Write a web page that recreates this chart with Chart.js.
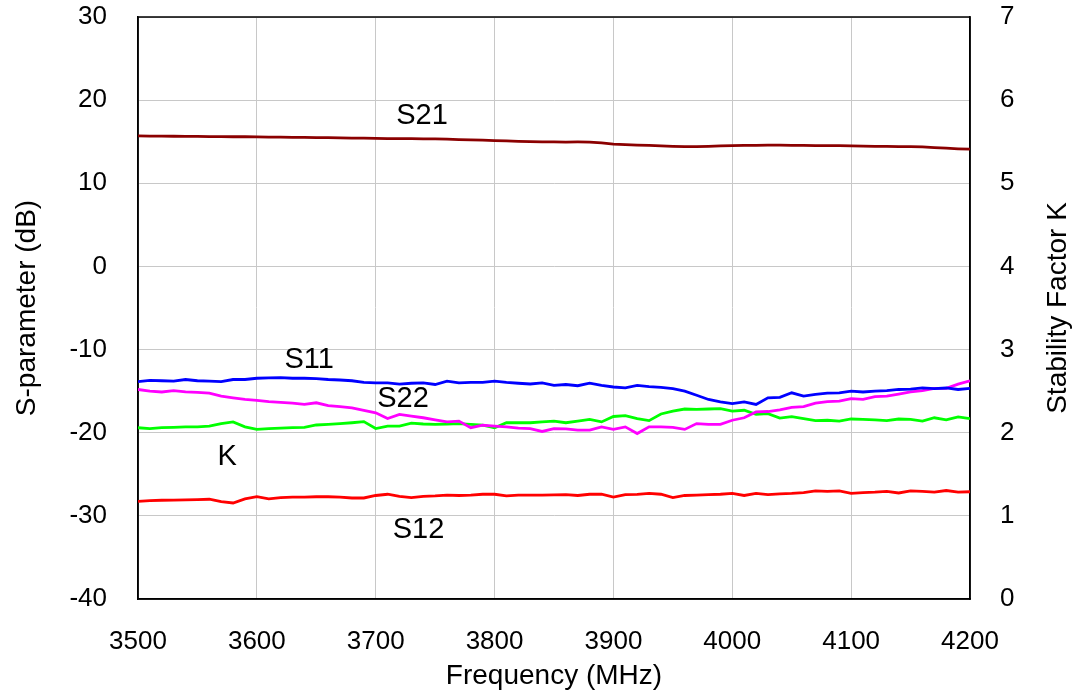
<!DOCTYPE html>
<html>
<head>
<meta charset="utf-8">
<script src="https://cdn.jsdelivr.net/npm/chart.js@4.4.0/dist/chart.umd.min.js"></script>
<style>
  html, body { margin: 0; padding: 0; background: #fff; }
  #wrap { width: 1089px; height: 694px; }
</style>
</head>
<body>
<div id="wrap"><canvas id="myChart" width="1089" height="694"></canvas></div>
<script>
// frequency points (MHz)
var freq = [3500, 3510, 3520, 3530, 3540, 3550, 3560, 3570, 3580, 3590,
  3600, 3610, 3620, 3630, 3640, 3650, 3660, 3670, 3680, 3690,
  3700, 3710, 3720, 3730, 3740, 3750, 3760, 3770, 3780, 3790,
  3800, 3810, 3820, 3830, 3840, 3850, 3860, 3870, 3880, 3890,
  3900, 3910, 3920, 3930, 3940, 3950, 3960, 3970, 3980, 3990,
  4000, 4010, 4020, 4030, 4040, 4050, 4060, 4070, 4080, 4090,
  4100, 4110, 4120, 4130, 4140, 4150, 4160, 4170, 4180, 4190, 4200];

// S-parameters in dB
var s21 = [15.7, 15.68, 15.67, 15.66, 15.65, 15.64, 15.62, 15.61, 15.6, 15.6,
  15.58, 15.56, 15.55, 15.53, 15.52, 15.5, 15.48, 15.46, 15.44, 15.42,
  15.4, 15.38, 15.37, 15.36, 15.35, 15.33, 15.3, 15.26, 15.22, 15.18,
  15.14, 15.1, 15.05, 15.0, 14.98, 14.97, 14.96, 14.97, 14.95, 14.85,
  14.72, 14.65, 14.6, 14.55, 14.5, 14.45, 14.42, 14.42, 14.45, 14.5,
  14.52, 14.55, 14.57, 14.6, 14.58, 14.57, 14.55, 14.53, 14.52, 14.52,
  14.5, 14.48, 14.45, 14.43, 14.42, 14.4, 14.38, 14.3, 14.22, 14.15, 14.1];

var s12 = [-28.25, -28.18, -28.12, -28.1, -28.08, -28.05, -28.0, -28.3, -28.45, -27.95,
  -27.7, -27.95, -27.8, -27.75, -27.75, -27.7, -27.7, -27.75, -27.85, -27.85,
  -27.55, -27.4, -27.65, -27.8, -27.65, -27.6, -27.5, -27.55, -27.5, -27.4,
  -27.4, -27.6, -27.5, -27.5, -27.5, -27.48, -27.45, -27.55, -27.4, -27.4,
  -27.75, -27.45, -27.42, -27.3, -27.4, -27.8, -27.55, -27.5, -27.45, -27.4,
  -27.3, -27.55, -27.3, -27.45, -27.35, -27.3, -27.2, -27.0, -27.05, -27.0,
  -27.3, -27.2, -27.15, -27.05, -27.25, -27.0, -27.05, -27.15, -26.95, -27.15, -27.1];

var s11 = [-13.85, -13.7, -13.75, -13.8, -13.6, -13.75, -13.8, -13.85, -13.6, -13.6,
  -13.45, -13.4, -13.38, -13.45, -13.45, -13.5, -13.6, -13.66, -13.75, -13.95,
  -14.0, -14.0, -14.15, -14.05, -14.0, -14.2, -13.8, -14.0, -13.95, -13.95,
  -13.8, -13.95, -14.05, -14.14, -14.0, -14.3, -14.2, -14.35, -14.05, -14.3,
  -14.5, -14.6, -14.3, -14.45, -14.55, -14.7, -15.0, -15.5, -16.0, -16.3,
  -16.5, -16.3, -16.6, -15.8, -15.74, -15.2, -15.6, -15.4, -15.25, -15.2,
  -15.0, -15.1, -15.0, -14.95, -14.8, -14.75, -14.6, -14.7, -14.62, -14.8, -14.67];

var s22 = [-14.8, -15.0, -15.1, -14.95, -15.1, -15.15, -15.25, -15.6, -15.8, -16.0,
  -16.1, -16.25, -16.35, -16.45, -16.6, -16.4, -16.75, -16.85, -17.0, -17.3,
  -17.6, -18.3, -17.8, -18.0, -18.2, -18.45, -18.7, -18.6, -19.4, -19.1,
  -19.2, -19.3, -19.45, -19.5, -19.85, -19.5, -19.55, -19.7, -19.7, -19.3,
  -19.6, -19.3, -20.1, -19.3, -19.3, -19.35, -19.6, -18.9, -19.0, -19.0,
  -18.5, -18.2, -17.5, -17.45, -17.25, -16.95, -16.85, -16.45, -16.25, -16.2,
  -15.9, -16.0, -15.65, -15.6, -15.35, -15.1, -14.95, -14.67, -14.67, -14.15, -13.75];

// stability factor K (right axis)
var kFactor = [2.06, 2.05, 2.06, 2.065, 2.07, 2.07, 2.08, 2.11, 2.13, 2.07,
  2.04, 2.05, 2.055, 2.06, 2.065, 2.093, 2.10, 2.11, 2.12, 2.133,
  2.05, 2.08, 2.08, 2.115, 2.105, 2.10, 2.105, 2.11, 2.10, 2.09,
  2.06, 2.12, 2.12, 2.12, 2.13, 2.14, 2.12, 2.14, 2.16, 2.13,
  2.195, 2.205, 2.17, 2.145, 2.225, 2.26, 2.285, 2.28, 2.285, 2.29,
  2.26, 2.27, 2.22, 2.23, 2.175, 2.193, 2.17, 2.145, 2.15, 2.14,
  2.165, 2.16, 2.155, 2.145, 2.165, 2.16, 2.14, 2.18, 2.155, 2.19, 2.17];

// curve labels placed in data units [text, freq, dB]
var curveLabels = [
  ['S21', 3739, 18.1],
  ['S11', 3644, -11.3],
  ['S22', 3723, -15.9],
  ['K', 3575, -22.9],
  ['S12', 3736, -31.7]
];

function pts(arr) {
  return freq.map(function (f, i) { return { x: f, y: arr[i] }; });
}

var FONT = 'Liberation Sans, Arial, sans-serif';

// black frame round the plot + curve names + right title
var extras = {
  id: 'extras',
  beforeDatasetsDraw: function (chart) {
    var a = chart.chartArea, c = chart.ctx;
    c.save();
    c.strokeStyle = '#000';
    c.lineWidth = 1.5;
    c.strokeRect(a.left, a.top, a.right - a.left, a.bottom - a.top);
    c.restore();
  },
  afterDraw: function (chart) {
    var c = chart.ctx, sx = chart.scales.x, sy = chart.scales.y, a = chart.chartArea;
    c.save();
    c.fillStyle = '#000';
    c.font = '29px ' + FONT;
    c.textAlign = 'center';
    c.textBaseline = 'middle';
    curveLabels.forEach(function (l) {
      c.fillText(l[0], sx.getPixelForValue(l[1]), sy.getPixelForValue(l[2]));
    });
    c.font = '28px ' + FONT;
    c.translate(1058, (a.top + a.bottom) / 2);
    c.rotate(-Math.PI / 2);
    c.fillText('Stability Factor K', 0, 0);
    c.restore();
  }
};

function plain(v) { return String(v); }

var ctx = document.getElementById('myChart').getContext('2d');
var myChart = new Chart(ctx, {
  type: 'line',
  data: {
    datasets: [
      { label: 'S21', data: pts(s21), borderColor: '#8b0000', yAxisID: 'y' },
      { label: 'S11', data: pts(s11), borderColor: '#0000ff', yAxisID: 'y' },
      { label: 'S22', data: pts(s22), borderColor: '#ff00ff', yAxisID: 'y' },
      { label: 'K', data: pts(kFactor), borderColor: '#00ff00', yAxisID: 'y1' },
      { label: 'S12', data: pts(s12), borderColor: '#ff0000', yAxisID: 'y' }
    ]
  },
  options: {
    responsive: false,
    animation: false,
    devicePixelRatio: 1,
    layout: { padding: { top: 17, left: 0, right: 0, bottom: 0 } },
    elements: {
      point: { radius: 0 },
      line: { borderWidth: 2.8, tension: 0 }
    },
    plugins: {
      legend: { display: false },
      tooltip: { enabled: false }
    },
    scales: {
      x: {
        type: 'linear',
        min: 3500,
        max: 4200,
        afterFit: function (s) { s.height = 95; s.paddingLeft = 0; s.paddingRight = 0; },
        ticks: { stepSize: 100, padding: 27, color: '#000', callback: plain, font: { family: FONT, size: 26 } },
        grid: { color: '#c8c8c8', drawTicks: false },
        border: { color: '#000', width: 1.5 },
        title: { display: true, text: 'Frequency (MHz)', color: '#000', padding: { bottom: 1 }, font: { family: FONT, size: 28 } }
      },
      y: {
        position: 'left',
        min: -40,
        max: 30,
        afterFit: function (s) { s.width = 138; s.paddingTop = 0; s.paddingBottom = 0; },
        ticks: { stepSize: 10, padding: 31, color: '#000', callback: plain, font: { family: FONT, size: 26 } },
        grid: { color: '#c8c8c8', drawTicks: false },
        border: { color: '#000', width: 1.5 },
        title: { display: true, text: 'S-parameter (dB)', color: '#000', padding: { top: 10 }, font: { family: FONT, size: 28 } }
      },
      y1: {
        position: 'right',
        min: 0,
        max: 7,
        afterFit: function (s) { s.width = 119; s.paddingTop = 0; s.paddingBottom = 0; },
        ticks: { stepSize: 1, padding: 30, color: '#000', callback: plain, font: { family: FONT, size: 26 } },
        grid: { drawOnChartArea: false, drawTicks: false },
        border: { color: '#000', width: 1.5 }
      }
    }
  },
  plugins: [extras]
});
</script>
</body>
</html>
